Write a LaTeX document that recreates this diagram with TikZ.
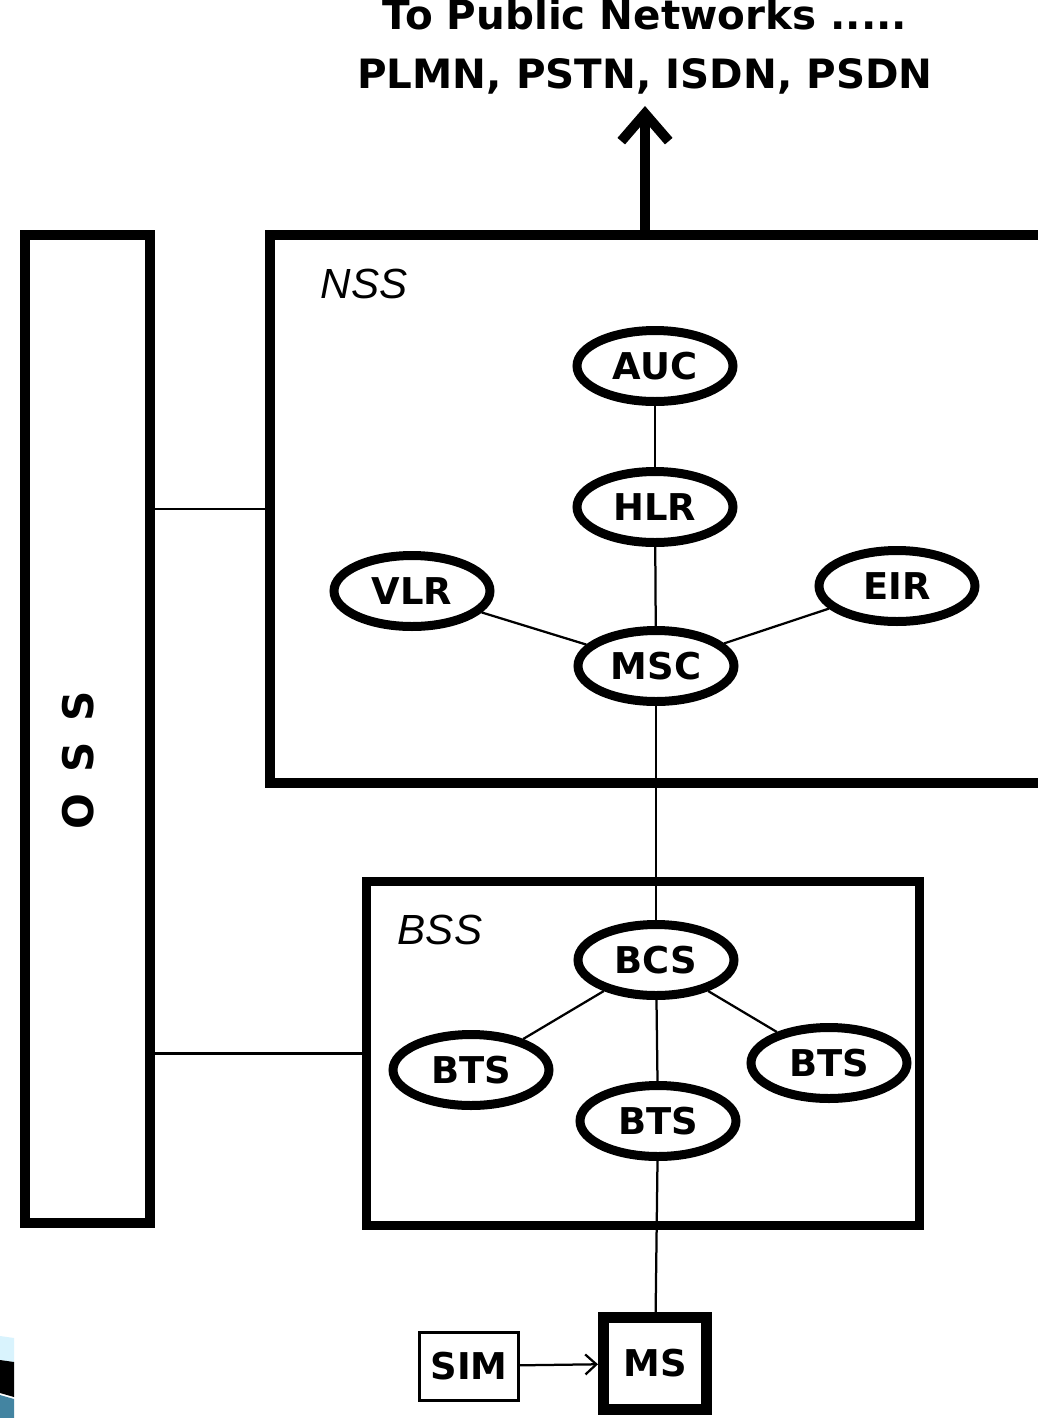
\documentclass[tikz,border=0pt]{standalone}
\usepackage{fontspec}
\setmainfont{Liberation Sans}
\newfontfamily\heavyfont{DejaVu Sans}
\usetikzlibrary{shapes.geometric,arrows.meta}

\tikzset{
  frame/.style={draw, line width=0.2cm, inner sep=0pt},
  unit/.style={ellipse, draw, line width=0.18cm, minimum width=3.12cm,
    minimum height=1.42cm, inner sep=0pt,
    font=\heavyfont\bfseries\fontsize{21}{21}\selectfont},
  link/.style={line width=0.045cm},
  tag/.style={font=\itshape\fontsize{24}{24}\selectfont},
  banner/.style={font=\heavyfont\bfseries\fontsize{23}{23}\selectfont}
}

\begin{document}
\begin{tikzpicture}[x=0.02cm, y=-0.02cm]
    \useasboundingbox (0,0) rectangle (1038,1418);
    \clip (0,0) rectangle (1038,1418);
    \fill[white] (0,0) rectangle (1038,1418);

    % Corner of the slide graphic
    \fill[cyan!15!white] (0,1336) -- (14,1338) -- (14,1362) -- (0,1360) -- cycle;
    \fill[black] (0,1360) -- (14,1362) -- (14,1397) -- (0,1393) -- cycle;
    \fill[cyan!60!black] (0,1395) -- (14,1399) -- (14,1418) -- (0,1418) -- cycle;

    % Public networks on top
    \node[banner] (pubtitle) at (645,14) {To Public Networks .....};
    \node[banner] (pubnets) at (645,76) {PLMN, PSTN, ISDN, PSDN};
    \coordinate (pubtip) at (645,106);

    % Subsystem frames
    \node[frame, minimum width=2.5cm, minimum height=19.76cm] (oss) at (87.5,729) {};
    \node[frame, minimum width=15.8cm, minimum height=10.96cm] (nss) at (665,509) {};
    \node[frame, line width=0.18cm, minimum width=11.08cm, minimum height=6.9cm] (bss) at (643,1053.5) {};
    \node[rotate=90, font=\heavyfont\bfseries\fontsize{24}{24}\selectfont] (osslabel) at (78,760) {O\hspace{0.5em}S\hspace{0.5em}S};
    \node[tag] (nsslabel) at (364,284) {NSS};
    \node[tag] (bsslabel) at (440,930) {BSS};

    % Network switching entities
    \node[unit] (auc) at (655,366) {AUC};
    \node[unit] (hlr) at (655,507) {HLR};
    \node[unit] (vlr) at (412,591) {VLR};
    \node[unit] (eir) at (897,586) {EIR};
    \node[unit] (msc) at (656,666) {MSC};

    % Base station entities
    \node[unit] (bcs) at (656,960) {BCS};
    \node[unit] (btsl) at (471,1070) {BTS};
    \node[unit] (btsm) at (658,1121) {BTS};
    \node[unit] (btsr) at (829,1063) {BTS};

    % Mobile station and SIM
    \node[frame, line width=0.22cm, minimum width=2.06cm, minimum height=1.84cm,
      font=\heavyfont\bfseries\fontsize{21}{21}\selectfont] (ms) at (655,1363.5) {MS};
    \node[draw, line width=0.06cm, minimum width=1.98cm, minimum height=1.36cm,
      inner sep=0pt, font=\heavyfont\bfseries\fontsize{21}{21}\selectfont] (sim) at (469,1366) {SIM};

    % Links between the entities
    \foreach \a/\b in {auc/hlr, hlr/msc, vlr/msc, eir/msc, msc/bcs,
                       bcs/btsl, bcs/btsm, bcs/btsr, btsm/ms}
    \draw[link] (\a) -- (\b);
    \draw[link] (oss.east |- nss.west) -- (nss.west);
    \draw[link] (oss.east |- bss.west) -- (bss.west);
    \draw[link, -{Straight Barb[length=0.22cm, width=0.4cm]}] (sim) -- (ms);

    % Arrow out to the public networks
    \draw[line width=0.2cm, -{Straight Barb[length=0.55cm, width=0.95cm]}]
      (nss.north -| pubtip) -- (pubtip);
  \end{tikzpicture}
\end{document}
